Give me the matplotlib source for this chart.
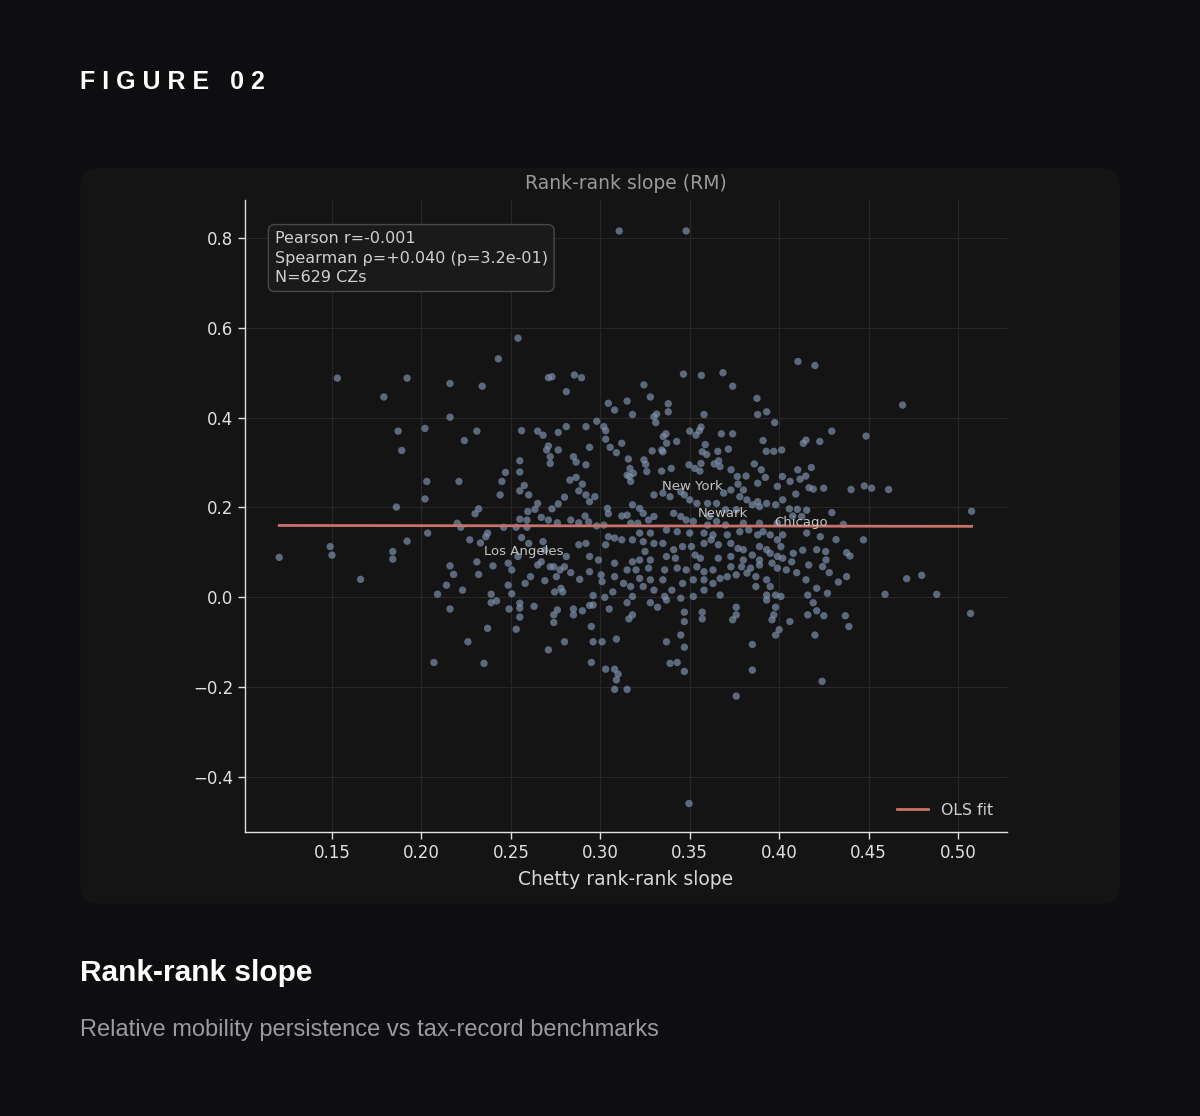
import numpy as np
import matplotlib.pyplot as plt
from matplotlib.patches import FancyBboxPatch

# Chetty rank-rank slope (x) vs RM rank-rank slope (y)
chetty_slope = [
    # left / centre-left cluster
    0.1205, 0.149, 0.150, 0.166, 0.184, 0.184, 0.192, 0.186, 0.187, 0.189,
    0.202, 0.203, 0.202, 0.2035, 0.216, 0.221, 0.224, 0.231, 0.220, 0.222,
    0.230, 0.232, 0.227, 0.231, 0.216, 0.218, 0.214, 0.209, 0.223, 0.232,
    0.237, 0.236, 0.240, 0.239, 0.233, 0.247, 0.245, 0.244, 0.255, 0.255,
    0.2575, 0.255, 0.260, 0.256, 0.265, 0.268, 0.2765, 0.281, 0.292, 0.298,
    0.302, 0.303, 0.308, 0.271, 0.270, 0.2765, 0.272, 0.272, 0.285, 0.2865,
    0.292, 0.294, 0.303, 0.3055, 0.309, 0.312, 0.283, 0.2865, 0.288, 0.290,
    0.292, 0.297, 0.294, 0.304, 0.3045, 0.312, 0.280, 0.2765, 0.273, 0.265,
    0.2635, 0.2595, 0.259, 0.255, 0.267, 0.271, 0.276, 0.2835, 0.288, 0.2915,
    0.2935, 0.298, 0.302, 0.246, 0.253, 0.259, 0.256, 0.260, 0.268, 0.269,
    0.254, 0.2485, 0.2505, 0.265, 0.267, 0.272, 0.274, 0.2775, 0.280, 0.281,
    0.288, 0.292, 0.294, 0.299, 0.303, 0.3045, 0.308, 0.312, 0.261, 0.269,
    0.2755, 0.278, 0.2835, 0.2885, 0.294, 0.3005, 0.301, 0.308, 0.308, 0.313,
    0.258, 0.2485, 0.2505, 0.2745, 0.279, 0.296, 0.3025, 0.307,
    # upper left
    0.3106, 0.254, 0.243, 0.153, 0.192, 0.179, 0.216, 0.234, 0.271, 0.273,
    0.2855, 0.2895, 0.281, 0.3045,
    # upper middle
    0.348, 0.4105, 0.420, 0.469, 0.3465, 0.3565, 0.3686, 0.374, 0.3244, 0.328,
    0.315, 0.318, 0.338, 0.338, 0.330, 0.3315, 0.358, 0.3876, 0.393, 0.388,
    0.331, 0.3157, 0.3244, 0.3254, 0.329, 0.326, 0.3166, 0.3185, 0.3163, 0.315,
    0.3975, 0.4294, 0.4486, 0.350, 0.3535, 0.3554, 0.3563, 0.3367, 0.3352, 0.3427,
    0.3371, 0.3677, 0.374, 0.391, 0.4135, 0.415, 0.4227, 0.3587, 0.357, 0.3595,
    0.3657, 0.3716, 0.3928, 0.397, 0.4014, 0.3344, 0.335, 0.3496, 0.3563, 0.3637,
    0.3662, 0.3669, 0.3731, 0.3861, 0.390, 0.4104, 0.418, 0.3397, 0.3343, 0.3528,
    0.3557, 0.3766, 0.3815, 0.3923, 0.4018, 0.4149,
    # dense centre
    0.377, 0.380, 0.388, 0.399, 0.369, 0.373, 0.378, 0.382, 0.388, 0.393,
    0.398, 0.402, 0.389, 0.385, 0.376, 0.370, 0.365, 0.360, 0.354, 0.350,
    0.347, 0.345, 0.339, 0.335,
    0.341, 0.345, 0.348, 0.361, 0.365, 0.352, 0.337, 0.343, 0.350, 0.358,
    0.363, 0.371, 0.378, 0.383, 0.388, 0.391, 0.395, 0.399, 0.402, 0.399,
    0.389, 0.380, 0.370, 0.360,
    0.335, 0.341, 0.346, 0.351, 0.358, 0.362, 0.366, 0.373, 0.377, 0.380,
    0.389, 0.393, 0.401, 0.395, 0.399, 0.402, 0.337, 0.342, 0.353, 0.356,
    0.366, 0.373, 0.380, 0.385, 0.389,
    0.336, 0.343, 0.348, 0.354, 0.358, 0.363, 0.373, 0.379, 0.384, 0.389,
    0.396, 0.399, 0.404, 0.352, 0.358, 0.367, 0.371, 0.376, 0.382, 0.387,
    0.393, 0.346, 0.335, 0.340, 0.363, 0.387, 0.395,
    0.336, 0.345, 0.352, 0.358, 0.367, 0.393, 0.398, 0.401,
    # right side
    0.4249, 0.4191, 0.4167, 0.4402, 0.4476, 0.4517, 0.4612, 0.5076, 0.4295, 0.4359,
    0.4318, 0.4471, 0.4713, 0.4797, 0.4592, 0.4881, 0.4377, 0.4396, 0.4331, 0.4377,
    0.4262, 0.4243, 0.428, 0.4132, 0.4165, 0.421, 0.407, 0.4098, 0.4102, 0.4154,
    0.4076, 0.4126, 0.4061, 0.4093, 0.4117, 0.4079, 0.4057,
    0.4154, 0.423, 0.421, 0.426, 0.415, 0.416, 0.427,
    # centre strip
    0.317, 0.330, 0.318, 0.322, 0.324, 0.330, 0.315, 0.317, 0.321, 0.327,
    0.322, 0.328, 0.318, 0.324, 0.330, 0.325, 0.318, 0.322, 0.328, 0.315,
    0.320, 0.327, 0.322, 0.328, 0.317, 0.324, 0.330, 0.318,
    # below zero
    0.216, 0.239, 0.242, 0.249, 0.255, 0.255, 0.263, 0.276, 0.274, 0.285,
    0.285, 0.290, 0.294, 0.296, 0.305, 0.315, 0.328, 0.332, 0.337, 0.376,
    0.376, 0.374, 0.393, 0.419, 0.237, 0.226, 0.235, 0.255, 0.253, 0.274,
    0.271, 0.280, 0.295, 0.296, 0.301, 0.295, 0.309, 0.303, 0.308, 0.310,
    0.309, 0.308, 0.315, 0.316, 0.318, 0.337, 0.339, 0.343, 0.345, 0.347,
    0.347, 0.347, 0.347, 0.357, 0.357, 0.376, 0.385, 0.385, 0.398, 0.397,
    0.396, 0.398, 0.400, 0.406, 0.416, 0.421, 0.425, 0.420, 0.424, 0.437,
    0.439,
    0.507, 0.3496, 0.207,
]

rm_slope = [
    0.089, 0.113, 0.094, 0.040, 0.102, 0.085, 0.125, 0.201, 0.370, 0.327,
    0.376, 0.258, 0.219, 0.143, 0.401, 0.258, 0.349, 0.370, 0.165, 0.156,
    0.186, 0.197, 0.128, 0.079, 0.070, 0.051, 0.027, 0.007, 0.016, 0.051,
    0.143, 0.135, 0.070, 0.007, 0.121, 0.278, 0.258, 0.228, 0.304, 0.279,
    0.249, 0.237, 0.228, 0.371, 0.370, 0.361, 0.367, 0.380, 0.380, 0.392,
    0.380, 0.371, 0.417, 0.337, 0.328, 0.328, 0.313, 0.298, 0.313, 0.301,
    0.295, 0.334, 0.352, 0.334, 0.322, 0.343, 0.261, 0.267, 0.237, 0.252,
    0.228, 0.224, 0.213, 0.198, 0.186, 0.181, 0.223, 0.208, 0.197, 0.209,
    0.196, 0.191, 0.172, 0.174, 0.178, 0.172, 0.166, 0.172, 0.166, 0.181,
    0.168, 0.159, 0.161, 0.156, 0.156, 0.156, 0.133, 0.120, 0.124, 0.105,
    0.091, 0.076, 0.061, 0.072, 0.079, 0.068, 0.068, 0.061, 0.068, 0.091,
    0.117, 0.120, 0.091, 0.083, 0.117, 0.135, 0.132, 0.128, 0.046, 0.037,
    0.046, 0.020, 0.055, 0.040, 0.057, 0.050, 0.035, 0.076, 0.046, 0.031,
    0.031, 0.027, 0.008, 0.012, 0.012, 0.004, 0.000, 0.012,
    0.8156, 0.577, 0.531, 0.488, 0.488, 0.446, 0.476, 0.470, 0.489, 0.491,
    0.495, 0.489, 0.458, 0.432,
    0.8156, 0.525, 0.516, 0.428, 0.497, 0.494, 0.500, 0.470, 0.473, 0.446,
    0.437, 0.407, 0.431, 0.413, 0.402, 0.408, 0.407, 0.443, 0.413, 0.407,
    0.389, 0.308, 0.306, 0.296, 0.326, 0.280, 0.287, 0.276, 0.269, 0.272,
    0.389, 0.370, 0.359, 0.370, 0.361, 0.371, 0.379, 0.364, 0.358, 0.347,
    0.343, 0.364, 0.364, 0.349, 0.343, 0.350, 0.347, 0.340, 0.324, 0.318,
    0.325, 0.330, 0.325, 0.325, 0.328, 0.328, 0.324, 0.295, 0.298, 0.297,
    0.304, 0.291, 0.284, 0.297, 0.284, 0.284, 0.289, 0.287, 0.281, 0.287,
    0.281, 0.269, 0.270, 0.267, 0.269, 0.270,
    0.252, 0.239, 0.254, 0.247, 0.232, 0.239, 0.224, 0.217, 0.213, 0.209,
    0.206, 0.217, 0.202, 0.206, 0.195, 0.195, 0.209, 0.209, 0.209, 0.217,
    0.228, 0.235, 0.224, 0.232,
    0.187, 0.180, 0.172, 0.180, 0.169, 0.169, 0.150, 0.146, 0.143, 0.143,
    0.139, 0.139, 0.146, 0.150, 0.139, 0.146, 0.139, 0.128, 0.139, 0.165,
    0.165, 0.165, 0.161, 0.161,
    0.120, 0.106, 0.113, 0.113, 0.120, 0.128, 0.117, 0.120, 0.109, 0.106,
    0.113, 0.106, 0.113, 0.098, 0.091, 0.087, 0.091, 0.087, 0.094, 0.087,
    0.087, 0.091, 0.083, 0.094, 0.083,
    0.061, 0.065, 0.061, 0.068, 0.057, 0.061, 0.068, 0.068, 0.065, 0.072,
    0.076, 0.065, 0.061, 0.039, 0.039, 0.042, 0.046, 0.050, 0.054, 0.046,
    0.039, 0.031, 0.039, 0.016, 0.031, 0.024, 0.024,
    0.002, -0.002, 0.002, 0.016, 0.005, 0.005, 0.005, 0.002,
    0.243, 0.241, 0.244, 0.240, 0.248, 0.243, 0.240, 0.1916, 0.1885, 0.1626,
    0.1285, 0.128, 0.0414, 0.0490, 0.0067, 0.0067, 0.0994, 0.092, 0.034, 0.046,
    0.0832, 0.0683, 0.055, 0.105, 0.072, 0.0202, 0.079, 0.0549, 0.196, 0.194,
    0.181, 0.180, 0.258, 0.230, 0.263, 0.0979, 0.197,
    0.143, 0.135, 0.106, 0.102, 0.039, 0.005, 0.009,
    0.258, 0.228, 0.206, 0.198, 0.187, 0.180, 0.183, 0.165, 0.165, 0.172,
    0.143, 0.143, 0.128, 0.124, 0.120, 0.102, 0.079, 0.083, 0.083, 0.061,
    0.061, 0.065, 0.042, 0.039, 0.024, 0.024, 0.016, 0.002,
    -0.026, -0.012, -0.008, -0.026, -0.013, -0.024, -0.020, -0.028, -0.039, -0.026,
    -0.039, -0.030, -0.018, -0.017, -0.026, -0.012, -0.012, -0.022, -0.006, -0.022,
    -0.039, -0.050, -0.006, -0.012, -0.069, -0.099, -0.147, -0.044, -0.071, -0.056,
    -0.117, -0.099, -0.065, -0.099, -0.099, -0.145, -0.093, -0.160, -0.160, -0.171,
    -0.184, -0.205, -0.205, -0.048, -0.039, -0.099, -0.147, -0.145, -0.084, -0.111,
    -0.033, -0.054, -0.165, -0.033, -0.048, -0.220, -0.105, -0.162, -0.022, -0.039,
    -0.050, -0.084, -0.072, -0.054, -0.039, -0.030, -0.041, -0.084, -0.187, -0.041,
    -0.065,
    -0.036, -0.459, -0.145,
]

# OLS fit as drawn
ols_intercept = 0.1606
ols_slope = -0.005

# labelled commuting zones
city_names = ['New York', 'Newark', 'Chicago', 'Los Angeles']
city_x = [0.3323, 0.3524, 0.3949, 0.2327]
city_y = [0.2457, 0.1856, 0.1655, 0.1010]

pearson_r = -0.001
spearman_rho = 0.040
spearman_p = 0.32
n_cz = 629

x = np.array(chetty_slope)
y = np.array(rm_slope)
assert len(x) == len(y)

fig = plt.figure(figsize=(12, 11.16), dpi=100, facecolor='#0e0e11')

# card behind the chart
card = FancyBboxPatch((0.0667, 0.19), 0.8667, 0.6595,
                      boxstyle='round,pad=0,rounding_size=0.016',
                      transform=fig.transFigure, facecolor='#141414',
                      edgecolor='none', zorder=0)
fig.add_artist(card)

ax = fig.add_axes([0.2042, 0.2545, 0.635, 0.5663])
ax.set_facecolor('#141414')

ax.scatter(x, y, s=28, color='#7f93b0', alpha=0.68, edgecolors='none', zorder=2)

xs = np.array([x.min(), x.max()])
ax.plot(xs, ols_intercept + ols_slope * xs, color='#c9716b', lw=2, label='OLS fit', zorder=3)

for name, cx, cy in zip(city_names, city_x, city_y):
    ax.annotate(name, (cx, cy), xytext=(3, 0), textcoords='offset points',
                fontsize=9.5, color='#c4c4c4', va='center', zorder=4)

stats = (f'Pearson r={pearson_r:.3f}\n'
         f'Spearman ρ={spearman_rho:+.3f} (p={spearman_p:.1e})\n'
         f'N={n_cz} CZs')
ax.text(0.039, 0.951, stats, transform=ax.transAxes, va='top', ha='left',
        fontsize=11.5, color='#cfcfcf', linespacing=1.38, zorder=5,
        bbox=dict(boxstyle='round,pad=0.4', facecolor='#1b1b1b',
                  edgecolor='#4a4a4a', alpha=0.95))

ax.set_xlim(0.1014, 0.5274)
ax.set_ylim(-0.5224, 0.8846)
ax.set_xticks([0.15, 0.20, 0.25, 0.30, 0.35, 0.40, 0.45, 0.50])
ax.set_yticks([-0.4, -0.2, 0.0, 0.2, 0.4, 0.6, 0.8])
ax.grid(True, color='#272727', linewidth=0.8)
ax.set_axisbelow(True)

for side in ['top', 'right']:
    ax.spines[side].set_visible(False)
for side in ['left', 'bottom']:
    ax.spines[side].set_color('#e0e0e0')
    ax.spines[side].set_linewidth(1)
ax.tick_params(colors='#e0e0e0', labelsize=12, length=5, width=1)

ax.set_title('Rank-rank slope (RM)', color='#9a9a9a', fontsize=13.5, pad=8)
ax.set_xlabel('Chetty rank-rank slope', color='#d8d8d8', fontsize=13.5, labelpad=6)

leg = ax.legend(loc='lower right', frameon=False, fontsize=11.3)
for t in leg.get_texts():
    t.set_color('#d0d0d0')

# page texts
fig.text(80 / 1200, 1 - 82 / 1116, 'F I G U R E   0 2', fontsize=18, fontweight='bold',
         color='white', family='Liberation Sans', va='center')
fig.text(80 / 1200, 1 - 973 / 1116, 'Rank-rank slope', fontsize=21.5, fontweight='bold',
         color='white', family='Liberation Sans', va='center')
fig.text(80 / 1200, 1 - 1030 / 1116, 'Relative mobility persistence vs tax-record benchmarks',
         fontsize=17, color='#9a9aa2', family='Liberation Sans', va='center')

fig.savefig('out.png', dpi=100, facecolor=fig.get_facecolor())
